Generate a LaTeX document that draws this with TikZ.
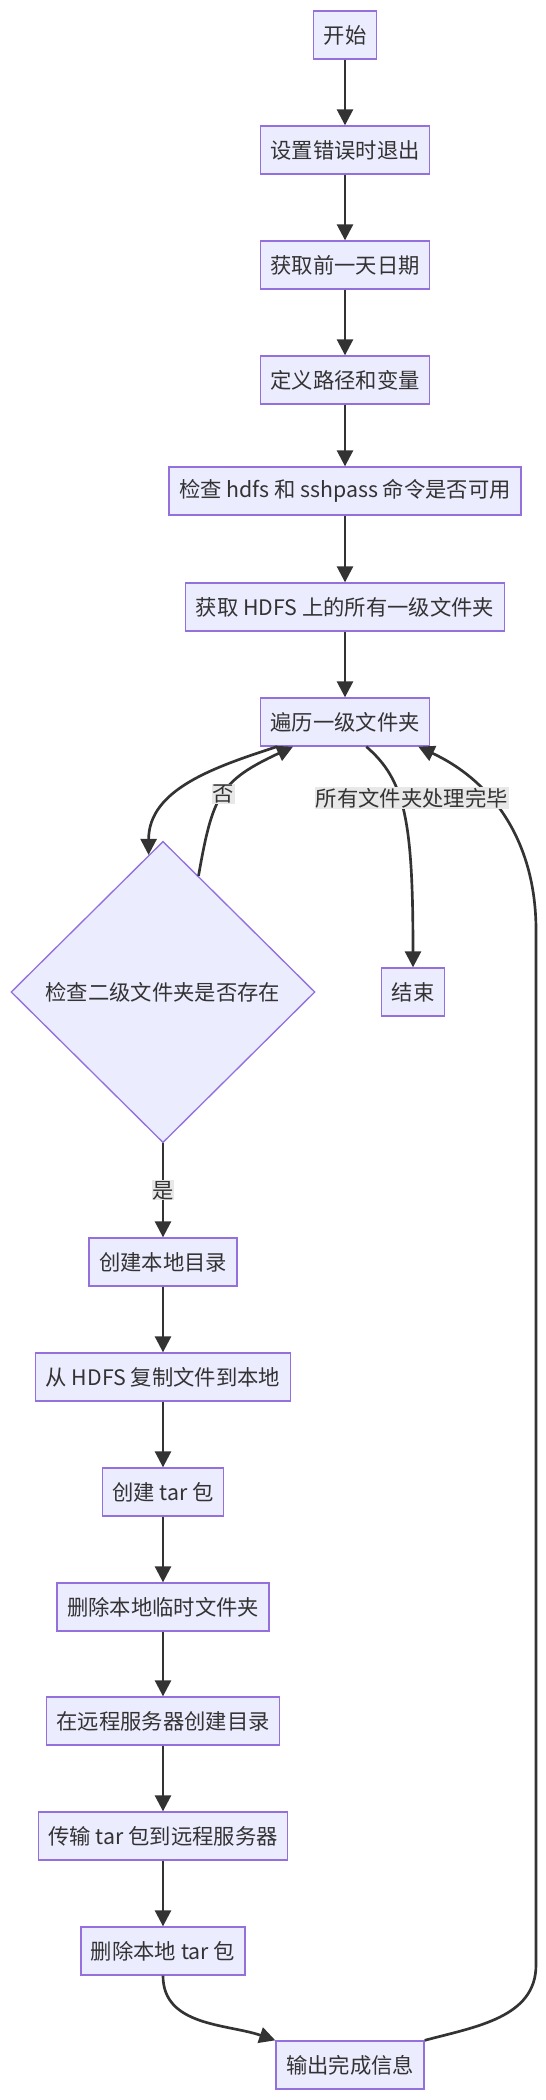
\documentclass[tikz,border=0pt]{standalone}
\usepackage{fontspec}
\setmainfont{Noto Sans CJK SC}
\usetikzlibrary{shapes.geometric,arrows.meta}
\definecolor{boxfill}{HTML}{ECECFF}
\definecolor{boxline}{HTML}{9370DB}
\definecolor{ink}{HTML}{333333}
\definecolor{lblbg}{HTML}{E8E8E8}
\tikzset{
 box/.style={draw=boxline,fill=boxfill,line width=1pt,minimum height=36pt,inner xsep=7.5pt,text=ink,font=\fontsize{16}{19}\selectfont},
 decide/.style={diamond,draw=boxline,fill=boxfill,line width=1pt,minimum width=228pt,minimum height=226pt,inner sep=0pt,text=ink,font=\fontsize{16}{19}\selectfont},
 lbl/.style={fill=lblbg,inner sep=0.5pt,text=ink,font=\fontsize{16}{19}\selectfont},
 flow/.style={->,draw=ink,line width=2pt}
}
\begin{document}
\begin{tikzpicture}[x=0.75pt,y=-0.75pt,>={Triangle[length=12pt,width=12pt]}]
 \useasboundingbox (0,0) rectangle (546,2100);
 \node[box] (start) at (345,35) {开始};
 \node[box] (seterr) at (345,150) {设置错误时退出};
 \node[box] (getdate) at (345,265) {获取前一天日期};
 \node[box] (defvar) at (345,380) {定义路径和变量};
 \node[box] (chkcmd) at (345,491) {检查 hdfs 和 sshpass 命令是否可用};
 \node[box] (gethdfs) at (345,607) {获取 HDFS 上的所有一级文件夹};
 \node[box] (loop) at (345,722) {遍历一级文件夹};
 \node[decide] (chkdir) at (163,992) {检查二级文件夹是否存在};
 \node[box] (finish) at (413,992) {结束};
 \node[box] (mklocal) at (163,1262) {创建本地目录};
 \node[box] (copy) at (163,1377) {从 HDFS 复制文件到本地};
 \node[box] (mktar) at (163,1492) {创建 tar 包};
 \node[box] (rmtmp) at (163,1607) {删除本地临时文件夹};
 \node[box] (mkremote) at (163,1721) {在远程服务器创建目录};
 \node[box] (send) at (163,1836) {传输 tar 包到远程服务器};
 \node[box] (rmtar) at (163,1951) {删除本地 tar 包};
 \node[box] (report) at (350,2065) {输出完成信息};
 \coordinate (rbot) at (536,1965);
 \coordinate (rtop) at (536,930);

 \foreach \a/\b in {start/seterr,seterr/getdate,getdate/defvar,defvar/chkcmd,chkcmd/gethdfs,gethdfs/loop,mklocal/copy,copy/mktar,mktar/rmtmp,rmtmp/mkremote,mkremote/send,send/rmtar}
 {
     \draw[flow](\a)--(\b);
 }
 \draw[flow](report.north east) to[out=15,in=-90] (rbot)--(rtop) to[out=90,in=-25] ([xshift=-9pt]loop.south east);
 \draw[flow]([xshift=13pt]loop.south west) to[out=198,in=90] (chkdir.96);
 \draw[flow](chkdir.73) to[out=80,in=205,looseness=1.3] node[lbl,pos=.5](no){否} ([xshift=25pt]loop.south west);
 \draw[flow]([xshift=80pt]loop.south west) .. controls (405,780) and (413,820) .. node[lbl,pos=.41,xshift=9pt](alldone){所有文件夹处理完毕} (finish.north);
 \draw[flow](chkdir)--node[lbl](yes){是}(mklocal);
 \draw[flow](rmtar) to[out=-90,in=161] (report.north west);
\end{tikzpicture}
\end{document}
